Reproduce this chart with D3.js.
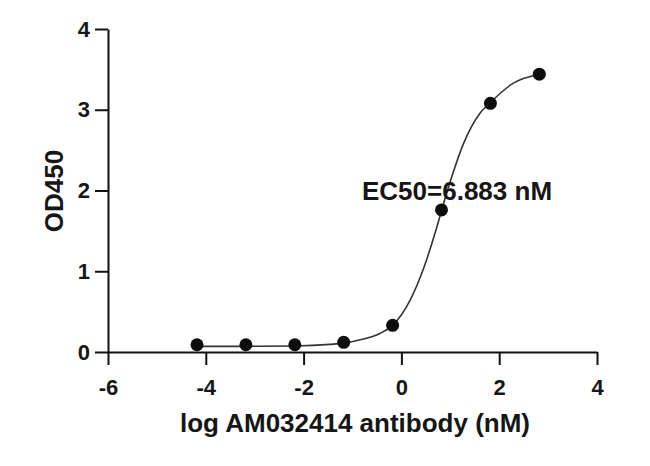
<!DOCTYPE html>
<html>
<head>
<meta charset="utf-8">
<script src="https://cdn.jsdelivr.net/npm/d3@7"></script>
<style>
  body { margin: 0; background: #fff; }
  svg text { font-family: "Liberation Sans", Arial, sans-serif; font-weight: bold; fill: #161616; }
</style>
</head>
<body>
<svg id="chart" width="650" height="466"></svg>
<script>
// measured points: log concentration (nM) vs OD450
const logConc = [-4.18, -3.18, -2.18, -1.18, -0.18, 0.82, 1.82, 2.82];
const od450 = [0.09, 0.09, 0.09, 0.12, 0.33, 1.76, 3.08, 3.44];

// fitted curve
const fitX = [-4.18, -3.18, -2.18, -1.46, -1.18, -0.78, -0.44, -0.18, 0.176, 0.468, 0.687, 0.82, 1.03, 1.27, 1.61, 1.82, 2.29, 2.82];
const fitY = [0.07, 0.07, 0.075, 0.095, 0.11, 0.16, 0.23, 0.33, 0.64, 1.06, 1.47, 1.75, 2.17, 2.58, 2.96, 3.09, 3.33, 3.44];

const xTicks = [-6, -4, -2, 0, 2, 4];
const yTicks = [0, 1, 2, 3, 4];

const xTitle = "log AM032414 antibody (nM)";
const yTitle = "OD450";
const ec50Label = "EC50=6.883 nM";

const svg = d3.select("#chart");

const x = d3.scaleLinear().domain([-6, 4]).range([108, 597]);
const y = d3.scaleLinear().domain([0, 4]).range([352, 29]);

// axes
const xAxis = d3.axisBottom(x)
    .tickValues(xTicks)
    .tickFormat(d => String(d))
    .tickSize(13)
    .tickSizeOuter(0)
    .tickPadding(14);

const yAxis = d3.axisLeft(y)
    .tickValues(yTicks)
    .tickFormat(d => String(d))
    .tickSize(13)
    .tickSizeOuter(0)
    .tickPadding(5);

const gx = svg.append("g")
    .attr("transform", `translate(0,${y(0)})`)
    .call(xAxis);

const gy = svg.append("g")
    .attr("transform", `translate(${x(-6)},0)`)
    .call(yAxis);

[gx, gy].forEach(g => {
    g.selectAll("path, line").attr("stroke", "#111").attr("stroke-width", 2);
    g.selectAll("text")
        .attr("fill", "#161616")
        .style("font-size", "22px")
        .style("font-family", "'Liberation Sans', Arial, sans-serif")
        .style("font-weight", "bold");
});

// fit line
const line = d3.line()
    .x((d, i) => x(fitX[i]))
    .y(d => y(d))
    .curve(d3.curveMonotoneX);

svg.append("path")
    .datum(fitY)
    .attr("d", line)
    .attr("fill", "none")
    .attr("stroke", "#333")
    .attr("stroke-width", 1.6);

// data points
svg.selectAll("circle.pt")
    .data(od450)
    .join("circle")
    .attr("class", "pt")
    .attr("cx", (d, i) => x(logConc[i]))
    .attr("cy", d => y(d))
    .attr("r", 6.5)
    .attr("fill", "#0d0d0d");

// EC50 annotation
svg.append("text")
    .attr("x", 362)
    .attr("y", 200)
    .style("font-size", "26px")
    .text(ec50Label);

// axis titles
svg.append("text")
    .attr("x", 355)
    .attr("y", 432)
    .attr("text-anchor", "middle")
    .style("font-size", "26px")
    .text(xTitle);

svg.append("text")
    .attr("transform", "translate(63,191) rotate(-90)")
    .attr("text-anchor", "middle")
    .style("font-size", "26px")
    .text(yTitle);
</script>
</body>
</html>
